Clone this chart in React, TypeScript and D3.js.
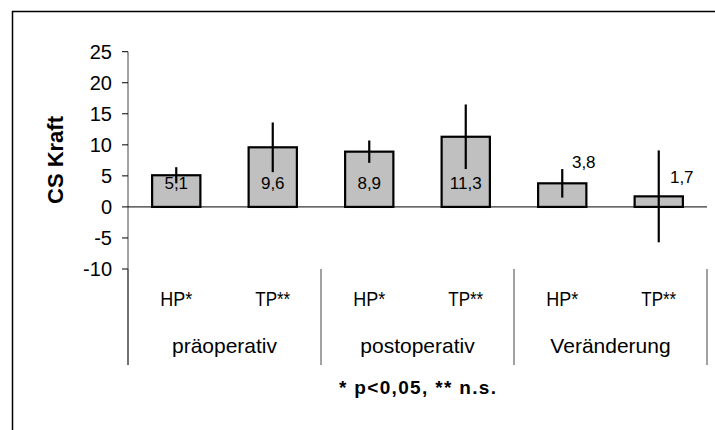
import React from "react";
import * as d3 from "d3";

const groups = ["präoperativ", "postoperativ", "Veränderung"];
const subLabels = ["HP*", "TP**", "HP*", "TP**", "HP*", "TP**"];
const means = [5.1, 9.6, 8.9, 11.3, 3.8, 1.7];
const errors = [1.3, 4.0, 1.8, 5.2, 2.3, 7.4];
const valueLabels = ["5,1", "9,6", "8,9", "11,3", "3,8", "1,7"];
const yTicks = [-10, -5, 0, 5, 10, 15, 20, 25];
const yTitle = "CS Kraft";
const note = "* p<0,05, ** n.s.";

const W = 715;
const H = 430;
const left = 128;
const right = 707;
const top = 51.7;
const bottom = 269;

export default function App() {
  const ids = means.map((_, i) => String(i));
  const x = d3.scaleBand<string>().domain(ids).range([left, right]).paddingInner(0.5).paddingOuter(0.25);
  const y = d3.scaleLinear().domain([-10, 25]).range([bottom, top]);
  const gx = d3.scaleBand<string>().domain(groups).range([left, right]);
  const font = "'Liberation Sans', Arial, sans-serif";
  const bw = x.bandwidth();
  // label anchor heights (data units) and horizontal shifts
  const labelY = [3.8, 3.8, 3.8, 3.8, 7.25, 4.9];
  const labelDx = [0, 0, 0, 0, 21.5, 23];

  return (
    <svg width={W} height={H} style={{ position: "absolute", left: 0, top: 0 }} fontFamily={font}>
      <rect x={0} y={0} width={W} height={H} fill="#fff" />
      {/* frame */}
      <line x1={12} x2={W} y1={11.5} y2={11.5} stroke="#000" strokeWidth={1.5} />
      <line x1={12.5} x2={12.5} y1={11} y2={H} stroke="#000" strokeWidth={1.5} />

      {/* y axis */}
      <line x1={left} x2={left} y1={y(25)} y2={365} stroke="#444" strokeWidth={1} />
      {yTicks.map((t) => (
        <g key={t}>
          <line x1={left - 6} x2={left} y1={y(t)} y2={y(t)} stroke="#000" strokeWidth={1} />
          <text x={left - 16} y={y(t)} dy="0.36em" textAnchor="end" fontSize={20} fill="#000">
            {t}
          </text>
        </g>
      ))}
      <text
        transform={`translate(55,160) rotate(-90)`}
        textAnchor="middle"
        dy="0.36em"
        fontSize={22}
        fontWeight="bold"
      >
        {yTitle}
      </text>

      {/* zero line */}
      <line x1={left} x2={right} y1={y(0)} y2={y(0)} stroke="#000" strokeWidth={1} />

      {/* bars */}
      {means.map((m, i) => {
        const bx = x(String(i))!;
        const y0 = y(Math.max(0, m));
        const y1 = y(Math.min(0, m));
        return (
          <rect key={"b" + i} x={bx} y={y0} width={bw} height={y1 - y0} fill="#c0c0c0" stroke="#000" strokeWidth={2.2} />
        );
      })}
      {means.map((m, i) => {
        const cx = x(String(i))! + bw / 2;
        return (
          <line key={"e" + i} x1={cx} x2={cx} y1={y(m + errors[i])} y2={y(m - errors[i])} stroke="#000" strokeWidth={2.2} />
        );
      })}
      {valueLabels.map((l, i) => {
        const cx = x(String(i))! + bw / 2 + labelDx[i];
        return (
          <text key={"v" + i} x={cx} y={y(labelY[i])} dy="0.36em" textAnchor="middle" fontSize={17} fill="#000">
            {l}
          </text>
        );
      })}

      {/* category separators */}
      {[0, 1, 2, 3].map((k) => {
        const sx = left + (k * (right - left)) / 3;
        return <line key={"s" + k} x1={sx} x2={sx} y1={269} y2={365} stroke="#444" strokeWidth={1} />;
      })}
      {subLabels.map((l, i) => (
        <text
          key={"c" + i}
          x={x(String(i))! + bw / 2}
          y={306}
          textAnchor="middle"
          fontSize={20}
          textLength={l.length === 3 ? 32 : 35}
          lengthAdjust="spacingAndGlyphs"
        >
          {l}
        </text>
      ))}
      {groups.map((g) => (
        <text key={g} x={gx(g)! + gx.bandwidth() / 2} y={353} textAnchor="middle" fontSize={21}>
          {g}
        </text>
      ))}
      <text
        x={(left + right) / 2}
        y={393.5}
        textAnchor="middle"
        fontSize={19}
        fontWeight="bold"
        textLength={157}
        lengthAdjust="spacing"
      >
        {note}
      </text>
    </svg>
  );
}
